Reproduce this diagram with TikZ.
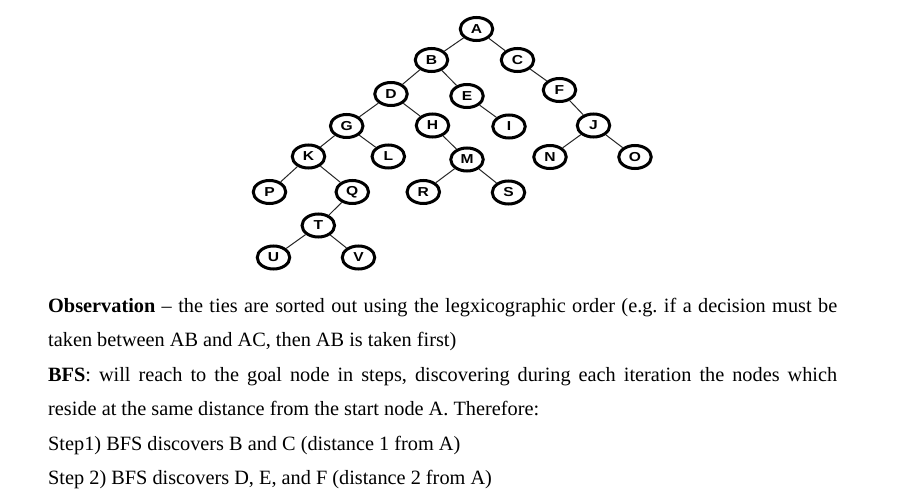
\documentclass[tikz,border=0pt]{standalone}
\usepackage{fontspec}
\setmainfont{Liberation Serif}
\newfontfamily\nodefont[FakeStretch=1.2]{Liberation Sans}
\usetikzlibrary{shapes.geometric}
\tikzset{
  vtx/.style={ellipse, draw, line width=3pt, minimum width=32.5pt, minimum height=23pt, inner sep=0pt,
    font=\nodefont\bfseries\fontsize{13}{13}\selectfont},
  edge/.style={line width=1pt, draw=black!85},
  txt/.style={anchor=base west, inner sep=0pt, font=\fontsize{20.3}{24}\selectfont}
}
\frenchspacing
\begin{document}
\begin{tikzpicture}[x=1pt,y=-1pt]
\useasboundingbox[fill=white] (0,0) rectangle (903,500);
% nodes
\node[vtx] (A) at (476.5,29) {A};
\node[vtx] (B) at (431.5,60) {B};
\node[vtx] (C) at (517.5,60) {C};
\node[vtx] (D) at (391,94) {D};
\node[vtx] (E) at (467,96) {E};
\node[vtx] (F) at (559.5,90) {F};
\node[vtx] (G) at (346.7,126) {G};
\node[vtx] (H) at (432.5,125.5) {H};
\node[vtx] (I) at (509,126.5) {I};
\node[vtx] (J) at (593.5,125.5) {J};
\node[vtx] (K) at (308.5,156.5) {K};
\node[vtx] (L) at (388.3,156.5) {L};
\node[vtx] (M) at (467,159.5) {M};
\node[vtx] (N) at (550,157) {N};
\node[vtx] (O) at (635,157) {O};
\node[vtx] (P) at (269.5,192) {P};
\node[vtx] (Q) at (352.3,192) {Q};
\node[vtx] (R) at (423.3,192) {R};
\node[vtx] (S) at (508.5,192.5) {S};
\node[vtx] (T) at (318.3,225.5) {T};
\node[vtx] (U) at (273.5,257.5) {U};
\node[vtx] (V) at (358.5,257.5) {V};
% edges
\foreach \a/\b in {A/B,A/C,B/D,B/E,C/F,D/G,D/H,E/I,F/J,G/K,G/L,H/M,J/N,J/O,K/P,K/Q,M/R,M/S,Q/T,T/U,T/V}
  \draw[edge] (\a) -- (\b);
% text
\node[txt] (l1) at (48,312) {\makebox[789pt][s]{\textbf{Observation} – the ties are sorted out using the legxicographic order (e.g. if a decision must be}};
\node[txt] (l2) at (48,346.5) {taken between AB and AC, then AB is taken first)};
\node[txt] (l3) at (48,381) {\makebox[789pt][s]{\textbf{BFS}: will reach to the goal node in steps, discovering during each iteration the nodes which}};
\node[txt] (l4) at (48,415.5) {reside at the same distance from the start node A. Therefore:};
\node[txt] (l5) at (48,450) {Step1) BFS discovers B and C (distance 1 from A)};
\node[txt] (l6) at (48,484.5) {Step 2) BFS discovers D, E, and F (distance 2 from A)};
\end{tikzpicture}
\end{document}
